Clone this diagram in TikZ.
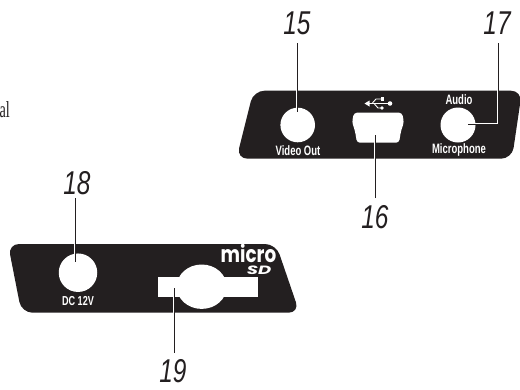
\documentclass[tikz,border=0pt]{standalone}
\usepackage{fontspec}
\setmainfont{Liberation Sans}
\newfontfamily\narrowf[FakeStretch=0.7]{Liberation Sans}
\newfontfamily\numf[FakeStretch=0.74]{Liberation Sans}
\newfontfamily\logof[FakeStretch=0.8]{Poppins}
\newfontfamily\sdf[FakeStretch=1.5]{Poppins}
\newfontfamily\serf[FakeStretch=0.62]{Liberation Serif}
\definecolor{ink}{HTML}{231F20}
\tikzset{
  panel/.style={fill=ink,draw=none},
  hole/.style={fill=white,draw=none},
  num/.style={font=\numf\itshape\fontsize{33}{33}\selectfont,text=ink,inner sep=0pt},
  portlabel/.style={font=\narrowf\bfseries\fontsize{13.6}{13.6}\selectfont,text=white,inner sep=0pt},
  halo/.style={draw=white,line width=2.6pt},
  lead/.style={draw=ink,line width=1pt},
}
\begin{document}
\begin{tikzpicture}[x=1pt,y=-1pt]
\useasboundingbox (0,0) rectangle (520,389);
% upper panel
\fill[panel,rounded corners=11pt] (253.5,90.7) -- (522,90.7) -- (512,158.7) -- (236.5,158.7) -- cycle;
\node[hole,circle,minimum size=34.6pt,inner sep=0pt] (c15) at (297.7,125) {};
\node[hole,circle,minimum size=35pt,inner sep=0pt] (c17) at (458,125) {};
\fill[hole,rounded corners=3pt] (354,112.7) -- (402,112.7) -- (404,122) -- (401,131) -- (399,142.7) -- (357,142.7) -- (355,131) -- (352,122) -- cycle;
% usb symbol
\begin{scope}[white]
\draw[line width=1.1pt] (368,103.5) -- (388,103.5);
\fill (364.5,103.5) -- (369.5,100.5) -- (369.5,106.5) -- cycle;
\fill (390,103.5) circle (2.3pt);
\draw[line width=0.9pt] (372,103.5) -- (376,99) -- (381,99);
\fill (380.5,97.3) rectangle (384,100.7);
\draw[line width=0.9pt] (374,103.5) -- (378,108) -- (381,108);
\fill (382,108) circle (1.9pt);
\end{scope}
\node[portlabel] (t15) at (298,150.3) {Video Out};
\node[portlabel] (t17a) at (459,100) {Audio};
\node[portlabel] (t17b) at (459,150.3) {Microphone};
% lower panel
\fill[panel,rounded corners=11pt] (8,244) -- (276,244) -- (299.5,312.7) -- (21.5,312.7) -- cycle;
\node[hole,circle,minimum size=38.5pt,inner sep=0pt] (c18) at (78,272.7) {};
\fill[hole] (158,277.3) rectangle (258,296.7);
\fill[hole] (201.7,286.7) ellipse (25pt and 22.2pt);
\node[portlabel,font=\narrowf\bfseries\fontsize{13}{13}\selectfont] (t18) at (78,301.3) {DC 12V};
\node[inner sep=0pt,text=white,font=\logof\bfseries\fontsize{23}{15}\selectfont,anchor=base] (mi) at (248.5,262) {micro};
\node[inner sep=0pt,text=white,font=\sdf\bfseries\itshape\fontsize{12}{12}\selectfont,anchor=base] (sd) at (259,274) {SD};
% numbers
\node[num] (n15) at (297,23) {15};
\node[num] (n16) at (375,217) {16};
\node[num] (n17) at (497,23) {17};
\node[num] (n18) at (77,183) {18};
\node[num] (n19) at (173,371) {19};
\node[inner sep=0pt,text=ink,font=\serf\fontsize{23}{23}\selectfont,anchor=base east] (al) at (10,117) {al};
% leaders
\coordinate (a15) at (297,43); \coordinate (e15) at (297,112);
\coordinate (a16) at (375,198); \coordinate (e16) at (375,135);
\coordinate (a17) at (498,43); \coordinate (b17) at (498,124); \coordinate (e17) at (468,124);
\coordinate (a18) at (75,198); \coordinate (e18) at (75,262);
\coordinate (a19) at (174,352.7); \coordinate (e19) at (174,288);
\foreach \s in {halo,lead}{
  \draw[\s] (a15) -- (e15);
  \draw[\s] (a16) -- (e16);
  \draw[\s] (a17) -- (b17) -- (e17);
  \draw[\s] (a18) -- (e18);
  \draw[\s] (a19) -- (e19);
}
\end{tikzpicture}
\end{document}
